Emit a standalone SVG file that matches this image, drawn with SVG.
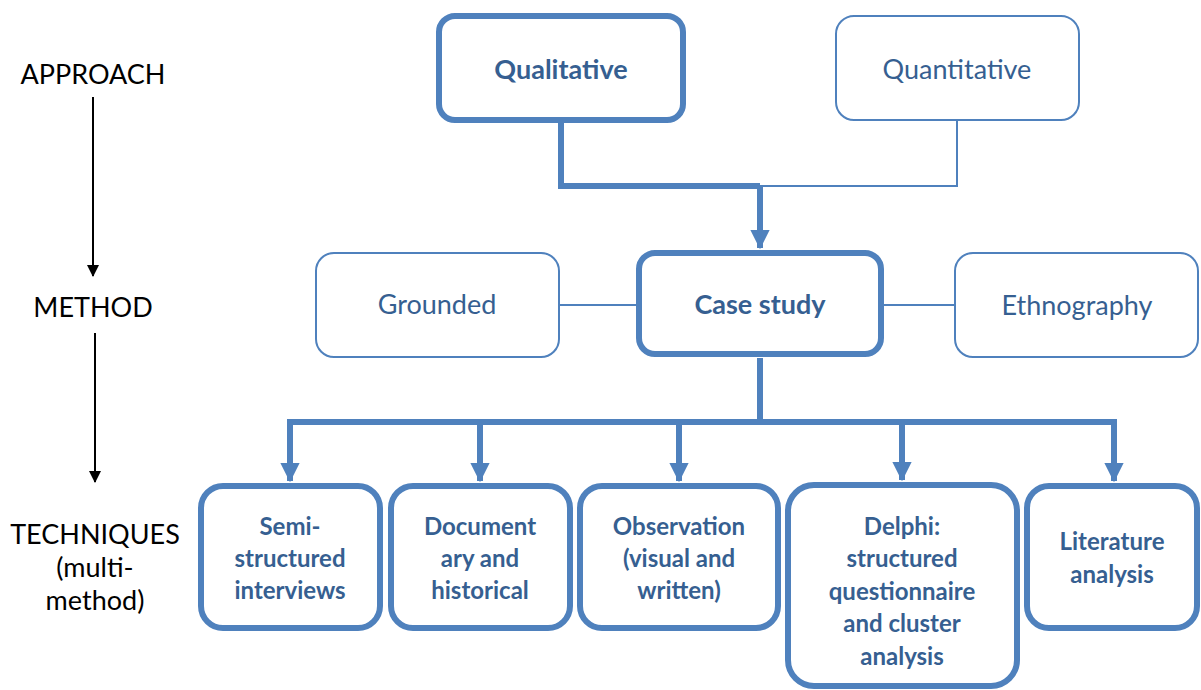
<svg xmlns="http://www.w3.org/2000/svg" width="1201" height="690" viewBox="0 0 1201 690">
  <style>
    .box { fill: #ffffff; stroke: #4F81BD; }
    .thick { stroke-width: 6; }
    .thin { stroke-width: 2; }
    .lbl { font-family: Lato, "Open Sans", "Liberation Sans", sans-serif; fill: #365F91; text-anchor: middle; }
    .b { font-weight: bold; }
    .big { font-size: 27px; }
    .sm { font-size: 24px; }
    .side { font-family: Lato, "Open Sans", "Liberation Sans", sans-serif; fill: #000000; font-size: 27px; text-anchor: middle; }
    .wire { fill: none; stroke: #4F81BD; }
    .levelArrow { stroke: #000000; stroke-width: 2; }
  </style>
  <defs>
    <marker id="blueHead" markerWidth="4" markerHeight="4" refX="3" refY="2" orient="auto" markerUnits="strokeWidth">
      <path d="M0,0.4 L3.2,2 L0,3.6 Z" fill="#4F81BD"/>
    </marker>
    <marker id="blackHead" markerWidth="12" markerHeight="12" refX="11" refY="6" orient="auto" markerUnits="userSpaceOnUse">
      <path d="M0,0 L12,6 L0,12 Z" fill="#000000"/>
    </marker>
  </defs>

  <!-- level labels on the left -->
  <g id="levels">
    <text class="side" x="93" y="84">APPROACH</text>
    <line class="levelArrow" x1="93" y1="97" x2="93" y2="276" marker-end="url(#blackHead)"/>
    <text class="side" x="93" y="317">METHOD</text>
    <line class="levelArrow" x1="95" y1="333" x2="95" y2="482" marker-end="url(#blackHead)"/>
    <text class="side" x="95" y="544">TECHNIQUES</text>
    <text class="side" x="95" y="577">(multi-</text>
    <text class="side" x="95" y="610">method)</text>
  </g>

  <!-- connectors -->
  <g id="connectors">
    <polyline class="wire thin" points="957,121 957,186 760,186"/>
    <polyline class="wire thick" points="561,123 561,186 760,186"/>
    <line class="wire thick" x1="760" y1="186" x2="760" y2="248" marker-end="url(#blueHead)"/>
    <line class="wire thin" x1="559" y1="305" x2="636" y2="305"/>
    <line class="wire thin" x1="884" y1="305" x2="955" y2="305"/>
    <polyline class="wire thick" points="760,358 760,422"/>
    <polyline class="wire thick" points="290,440 290,422 1114,422 1114,440"/>
    <line class="wire thick" x1="290" y1="422" x2="290" y2="481" marker-end="url(#blueHead)"/>
    <line class="wire thick" x1="480" y1="422" x2="480" y2="481" marker-end="url(#blueHead)"/>
    <line class="wire thick" x1="679" y1="422" x2="679" y2="481" marker-end="url(#blueHead)"/>
    <line class="wire thick" x1="902" y1="422" x2="902" y2="480" marker-end="url(#blueHead)"/>
    <line class="wire thick" x1="1114" y1="422" x2="1114" y2="481" marker-end="url(#blueHead)"/>
  </g>

  <g id="qualitative">
    <rect class="box thick" x="439" y="16" width="244" height="104" rx="16"/>
    <text class="lbl b big" x="561" y="79">Qualitative</text>
  </g>
  <g id="quantitative">
    <rect class="box thin" x="836" y="16" width="243" height="104" rx="18"/>
    <text class="lbl big" x="957" y="79">Quantitative</text>
  </g>

  <g id="grounded">
    <rect class="box thin" x="316" y="253" width="243" height="104" rx="18"/>
    <text class="lbl big" x="437" y="314">Grounded</text>
  </g>
  <g id="case-study">
    <rect class="box thick" x="639" y="253" width="242" height="101" rx="16"/>
    <text class="lbl b big" x="760" y="314">Case study</text>
  </g>
  <g id="ethnography">
    <rect class="box thin" x="955" y="253" width="243" height="104" rx="18"/>
    <text class="lbl big" x="1077" y="315">Ethnography</text>
  </g>

  <g id="semi-structured">
    <rect class="box thick" x="201" y="486" width="179" height="142" rx="22"/>
    <text class="lbl b sm" x="290" y="535">Semi-</text>
    <text class="lbl b sm" x="290" y="567">structured</text>
    <text class="lbl b sm" x="290" y="599">interviews</text>
  </g>
  <g id="documentary">
    <rect class="box thick" x="391" y="486" width="179" height="142" rx="22"/>
    <text class="lbl b sm" x="480" y="535">Document</text>
    <text class="lbl b sm" x="480" y="567">ary and</text>
    <text class="lbl b sm" x="480" y="599">historical</text>
  </g>
  <g id="observation">
    <rect class="box thick" x="580" y="486" width="198" height="142" rx="22"/>
    <text class="lbl b sm" x="679" y="535">Observation</text>
    <text class="lbl b sm" x="679" y="567">(visual and</text>
    <text class="lbl b sm" x="679" y="599">written)</text>
  </g>
  <g id="delphi">
    <rect class="box thick" x="788" y="485" width="229" height="201" rx="26"/>
    <text class="lbl b sm" x="902" y="535">Delphi:</text>
    <text class="lbl b sm" x="902" y="567">structured</text>
    <text class="lbl b sm" x="902" y="600">questionnaire</text>
    <text class="lbl b sm" x="902" y="632">and cluster</text>
    <text class="lbl b sm" x="902" y="665">analysis</text>
  </g>
  <g id="literature">
    <rect class="box thick" x="1027" y="486" width="170" height="142" rx="22"/>
    <text class="lbl b sm" x="1112" y="550">Literature</text>
    <text class="lbl b sm" x="1112" y="583">analysis</text>
  </g>
</svg>
